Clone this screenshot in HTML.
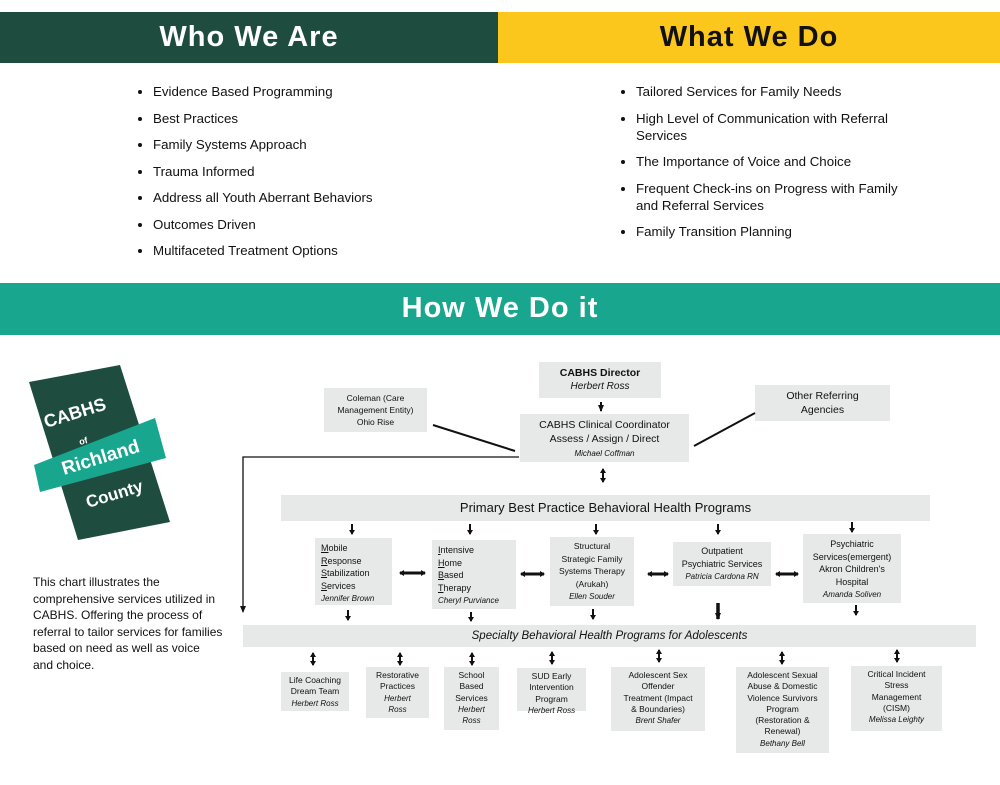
<!DOCTYPE html>
<html><head><meta charset="utf-8"><style>
body{margin:0;width:1000px;height:785px;position:relative;background:#fff;font-family:"Liberation Sans",sans-serif;overflow:hidden}
.a{position:absolute}
.hd{position:absolute;font-weight:bold;font-size:29px;text-align:center;letter-spacing:1px}
ul{position:absolute;margin:0;padding:0 0 0 16px;font-size:13.3px;color:#111;line-height:17px}
li{margin-bottom:9.5px}
.b{position:absolute;background:#e7e8e8;text-align:center;font-size:10px;color:#111;line-height:12.5px;box-sizing:border-box;white-space:nowrap}
.s{position:absolute;background:#e7e8e8;text-align:center;font-size:8.5px;color:#111;line-height:11.3px;box-sizing:border-box;padding-top:3px;white-space:nowrap}
i{font-size:8px}
.l{text-align:left;padding-left:6px}
</style></head><body>
<div class="a" style="left:0;top:12px;width:498px;height:51px;background:#1e4d40"></div>
<div class="a" style="left:498px;top:12px;width:502px;height:51px;background:#fcc71c"></div>
<div class="hd" style="left:0;top:21px;width:498px;color:#fff">Who We Are</div>
<div class="hd" style="left:498px;top:21px;width:502px;color:#111">What We Do</div>
<ul style="left:137px;top:83px"><li>Evidence Based Programming</li><li>Best Practices</li><li>Family Systems Approach</li><li>Trauma Informed</li><li>Address all Youth Aberrant Behaviors</li><li>Outcomes Driven</li><li>Multifaceted Treatment Options</li></ul>
<ul style="left:620px;top:83px;width:320px"><li>Tailored Services for Family Needs</li><li>High Level of Communication with Referral<br>Services</li><li>The Importance of Voice and Choice</li><li>Frequent Check-ins on Progress with Family<br>and Referral Services</li><li>Family Transition Planning</li></ul>
<div class="a" style="left:0;top:283px;width:1000px;height:52px;background:#18a68f"></div>
<div class="hd" style="left:0;top:292px;width:1000px;color:#fff">How We Do it</div>

<svg class="a" style="left:0;top:350px" width="240" height="220">
<polygon points="29,32 120,15 170,172 78,190" fill="#1e4d40"/>
<polygon points="34,115 155,68 166,108 40,142" fill="#18a68f"/>
<g fill="#fff" font-weight="bold" font-family="Liberation Sans,sans-serif">
<text x="46" y="78" font-size="18" transform="rotate(-17 46 78)">CABHS</text>
<text x="80" y="95" font-size="9" transform="rotate(-15 80 95)">of</text>
<text x="64" y="125" font-size="19" transform="rotate(-17 64 125)">Richland</text>
<text x="88" y="158" font-size="17" transform="rotate(-17 88 158)">County</text>
</g>
</svg>
<div class="a" style="left:33px;top:574px;width:190px;font-size:12px;line-height:16.5px;color:#111">This chart illustrates the comprehensive services utilized in CABHS. Offering the process of referral to tailor services for families based on need as well as voice and choice.</div>

<div class="b" style="left:539px;top:362px;width:122px;height:36px;padding-top:5px;font-size:10.5px"><b>CABHS Director</b><br><i style="font-size:10px">Herbert Ross</i></div>
<div class="b" style="left:324px;top:388px;width:103px;height:44px;padding-top:4px;font-size:8.5px;line-height:12px">Coleman (Care<br>Management Entity)<br>Ohio Rise</div>
<div class="b" style="left:755px;top:385px;width:135px;height:36px;padding-top:4px;font-size:10.5px;line-height:14px">Other Referring<br>Agencies</div>
<div class="b" style="left:520px;top:414px;width:169px;height:48px;padding-top:4px;font-size:10.5px;line-height:14px">CABHS Clinical Coordinator<br>Assess / Assign / Direct<br><i>Michael Coffman</i></div>
<div class="b" style="left:281px;top:495px;width:649px;height:26px;font-size:13px;line-height:26px">Primary Best Practice Behavioral Health Programs</div>
<div class="b l" style="left:315px;top:538px;width:77px;height:67px;padding-top:4px;font-size:9px"><u>M</u>obile<br><u>R</u>esponse<br><u>S</u>tabilization<br><u>S</u>ervices<br><i>Jennifer Brown</i></div>
<div class="b l" style="left:432px;top:540px;width:84px;height:69px;padding-top:4px;font-size:9px"><u>I</u>ntensive<br><u>H</u>ome<br><u>B</u>ased<br><u>T</u>herapy<br><i>Cheryl Purviance</i></div>
<div class="b" style="left:550px;top:537px;width:84px;height:69px;padding-top:3px;font-size:8.5px">Structural<br>Strategic Family<br>Systems Therapy<br>(Arukah)<br><i>Ellen Souder</i></div>
<div class="b" style="left:673px;top:542px;width:98px;height:44px;padding-top:3px;font-size:9px">Outpatient<br>Psychiatric Services<br><i>Patricia Cardona RN</i></div>
<div class="b" style="left:803px;top:534px;width:98px;height:69px;padding-top:4px;font-size:9px">Psychiatric<br>Services(emergent)<br>Akron Children's<br>Hospital<br><i>Amanda Soliven</i></div>
<div class="b" style="left:243px;top:625px;width:733px;height:22px;font-size:11.5px;line-height:22px"><i style="font-size:11.5px">Specialty Behavioral Health Programs for Adolescents</i></div>

<div class="s" style="left:281px;top:672px;width:68px;height:39px">Life Coaching<br>Dream Team<br><i>Herbert Ross</i></div>
<div class="s" style="left:366px;top:667px;width:63px;height:51px">Restorative<br>Practices<br><i>Herbert<br>Ross</i></div>
<div class="s" style="left:444px;top:667px;width:55px;height:63px">School<br>Based<br>Services<br><i>Herbert<br>Ross</i></div>
<div class="s" style="left:517px;top:668px;width:69px;height:43px">SUD Early<br>Intervention<br>Program<br><i>Herbert Ross</i></div>
<div class="s" style="left:611px;top:667px;width:94px;height:64px">Adolescent Sex<br>Offender<br>Treatment (Impact<br>&amp; Boundaries)<br><i>Brent Shafer</i></div>
<div class="s" style="left:736px;top:667px;width:93px;height:86px">Adolescent Sexual<br>Abuse &amp; Domestic<br>Violence Survivors<br>Program<br>(Restoration &amp;<br>Renewal)<br><i>Bethany Bell</i></div>
<div class="s" style="left:851px;top:666px;width:91px;height:65px">Critical Incident<br>Stress<br>Management<br>(CISM)<br><i>Melissa Leighty</i></div>

<svg class="a" style="left:0;top:0" width="1000" height="785">
<defs>
<marker id="h" markerUnits="userSpaceOnUse" markerWidth="7" markerHeight="7" refX="6" refY="3.5" orient="auto-start-reverse"><path d="M0,0.5 L7,3.5 L0,6.5z" fill="#111"/></marker>
<marker id="s" markerUnits="userSpaceOnUse" markerWidth="5" markerHeight="6" refX="4" refY="3" orient="auto-start-reverse"><path d="M0,0 L5,3 L0,6z" fill="#111"/></marker>
</defs>
<g stroke="#111" stroke-width="2" fill="none">
<line x1="433" y1="425" x2="515" y2="451"/>
<line x1="755" y1="413" x2="694" y2="446"/>
<polyline points="519,457 243,457 243,612" stroke-width="1.3" marker-end="url(#h)"/>
<line x1="601" y1="402" x2="601" y2="411" marker-end="url(#h)"/>
<line x1="603" y1="469" x2="603" y2="482" marker-start="url(#s)" marker-end="url(#s)"/>
<g marker-end="url(#s)">
<line x1="352" y1="524" x2="352" y2="534"/><line x1="470" y1="524" x2="470" y2="534"/><line x1="596" y1="524" x2="596" y2="534"/><line x1="718" y1="524" x2="718" y2="534"/><line x1="852" y1="522" x2="852" y2="532"/>
<line x1="348" y1="610" x2="348" y2="620"/><line x1="471" y1="612" x2="471" y2="621"/><line x1="593" y1="609" x2="593" y2="619"/><line x1="856" y1="605" x2="856" y2="615"/>
</g>
<line x1="718" y1="603" x2="718" y2="619" stroke-width="3.5" marker-end="url(#h)"/>
<g marker-start="url(#s)" marker-end="url(#s)" stroke-width="3">
<line x1="400" y1="573" x2="425" y2="573"/><line x1="521" y1="574" x2="544" y2="574"/><line x1="648" y1="574" x2="668" y2="574"/><line x1="776" y1="574" x2="798" y2="574"/>
</g>
<g marker-start="url(#s)" marker-end="url(#s)">
<line x1="313" y1="653" x2="313" y2="665"/><line x1="400" y1="653" x2="400" y2="665"/><line x1="472" y1="653" x2="472" y2="665"/><line x1="552" y1="652" x2="552" y2="664"/><line x1="659" y1="650" x2="659" y2="662"/><line x1="782" y1="652" x2="782" y2="664"/><line x1="897" y1="650" x2="897" y2="662"/>
</g>
</g>
</svg>
</body></html>
